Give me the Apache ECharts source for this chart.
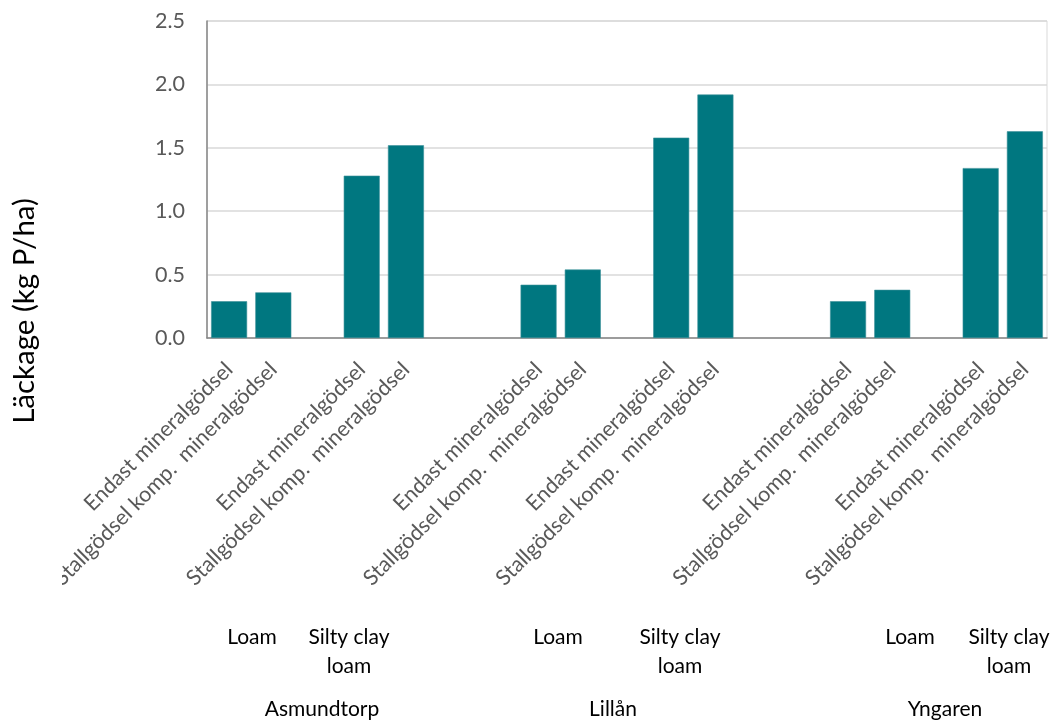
<!DOCTYPE html>
<html>
<head>
<meta charset="utf-8">
<script src="https://cdn.jsdelivr.net/npm/echarts@6/dist/echarts.min.js"></script>
<style>html,body{margin:0;padding:0;background:#fff;}#c{width:1056px;height:720px;}</style>
</head>
<body>
<div id="c"></div>
<script>
const categories = [
  'Endast mineralgödsel', 'Stallgödsel komp.  mineralgödsel', '',
  'Endast mineralgödsel', 'Stallgödsel komp.  mineralgödsel', '', '',
  'Endast mineralgödsel', 'Stallgödsel komp.  mineralgödsel', '',
  'Endast mineralgödsel', 'Stallgödsel komp.  mineralgödsel', '', '',
  'Endast mineralgödsel', 'Stallgödsel komp.  mineralgödsel', '',
  'Endast mineralgödsel', 'Stallgödsel komp.  mineralgödsel'
];
const values = [
  0.29, 0.36, null,
  1.28, 1.52, null, null,
  0.42, 0.54, null,
  1.58, 1.92, null, null,
  0.29, 0.38, null,
  1.34, 1.63
];
const yTicks = { min: 0, max: 2.5, interval: 0.5 };
const soilLabels = [
  { text: 'Loam', x: 252 }, { text: 'Silty clay\nloam', x: 349 },
  { text: 'Loam', x: 558 }, { text: 'Silty clay\nloam', x: 680 },
  { text: 'Loam', x: 910 }, { text: 'Silty clay\nloam', x: 1009 }
];
const siteLabels = [
  { text: 'Asmundtorp', x: 322 }, { text: 'Lillån', x: 613 }, { text: 'Yngaren', x: 945 }
];
const yTitle = 'Läckage (kg P/ha)';

const FONT = 'Lato, "Noto Sans", sans-serif';
const chart = echarts.init(document.getElementById('c'), null, { renderer: 'canvas' });

const graphics = [];
soilLabels.forEach(s => {
  graphics.push({
    type: 'text', position: [s.x, 623],
    style: { text: s.text, fill: '#000', font: '21px ' + FONT, textAlign: 'center', textVerticalAlign: 'top', lineHeight: 29 },
    z: 10
  });
});
siteLabels.forEach(s => {
  graphics.push({
    type: 'text', position: [s.x, 709],
    style: { text: s.text, fill: '#000', font: '21px ' + FONT, textAlign: 'center', textVerticalAlign: 'middle' },
    z: 10
  });
});
graphics.push({
  type: 'text', position: [24, 311], rotation: Math.PI / 2,
  style: { text: yTitle, fill: '#000', font: '29.5px ' + FONT, textAlign: 'center', textVerticalAlign: 'middle' },
  z: 10
});
graphics.push({
  type: 'rect', shape: { x: 0, y: 540, width: 62, height: 90 },
  style: { fill: '#fff' }, z: 100
});

chart.setOption({
  backgroundColor: '#fff',
  animation: false,
  grid: { left: 207, right: 9, top: 21, bottom: 382, containLabel: false, outerBoundsMode: 'none', show: true, borderColor: '#d9d9d9', borderWidth: 1 },
  xAxis: {
    type: 'category',
    data: categories,
    axisLine: { show: true, lineStyle: { color: '#868686', width: 1.5 } },
    axisTick: { show: false },
    axisLabel: { interval: 0, rotate: 45, color: '#595959', fontFamily: FONT, fontSize: 21.5, margin: 28 },
    splitLine: { show: false }
  },
  yAxis: {
    type: 'value',
    min: yTicks.min, max: yTicks.max, interval: yTicks.interval,
    axisLine: { show: true, lineStyle: { color: '#868686', width: 1.5 } },
    axisTick: { show: false },
    axisLabel: { color: '#595959', fontFamily: FONT, fontSize: 21.5, margin: 22, formatter: v => v.toFixed(1) },
    splitLine: { show: true, lineStyle: { color: '#d9d9d9', width: 1.5 } }
  },
  series: [{
    type: 'bar',
    data: values,
    barWidth: 36,
    itemStyle: { color: '#007780', borderColor: '#3a9199', borderWidth: 0.6 }
  }],
  graphic: graphics
});
</script>
</body>
</html>
